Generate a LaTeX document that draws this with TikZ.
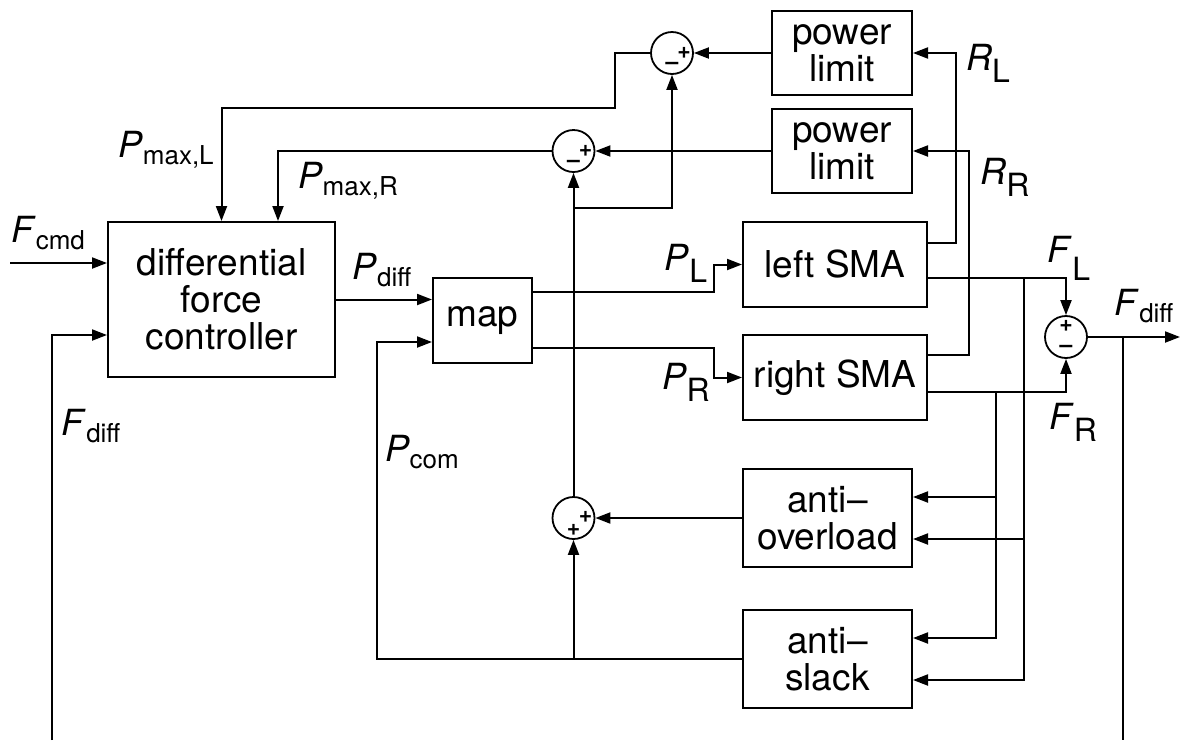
\documentclass[tikz,border=0pt]{standalone}
\usepackage{fontspec}
\setmainfont{TeX Gyre Heros}
\usetikzlibrary{arrows.meta}

\newcommand{\sig}[2]{\textit{#1}\raisebox{-7pt}{\fontsize{26}{26}\selectfont #2}}
\newcommand{\sigc}[3][-12pt]{\textit{#2}\raisebox{#1}{\fontsize{32}{32}\selectfont #3}}

\tikzset{
  block/.style={draw, line width=2pt, inner sep=0pt, align=center,
    font=\fontsize{37}{37}\selectfont},
  sumnode/.style={draw, circle, line width=1.8pt, minimum size=42pt, inner sep=0pt},
  sig/.style={line width=2pt, -{Triangle[length=15pt,width=11pt]}},
  wire/.style={line width=2pt},
  lbl/.style={inner sep=0pt, font=\fontsize{36}{36}\selectfont},
  sgn/.style={inner sep=0pt, font=\fontsize{23}{23}\selectfont\bfseries}
}

\begin{document}
\begin{tikzpicture}[x=1pt,y=-1pt]
    \useasboundingbox (0,0) rectangle (1187,740);

    % Blocks
    \node[block, minimum width=227pt, minimum height=155pt] (ctrl) at (221.5,299.5) {differential\\force\\controller};
    \node[block, minimum width=99pt, minimum height=85pt] (map) at (482.5,320.5) {map};
    \node[block, minimum width=140pt, minimum height=84pt] (limL) at (842,53) {power\\limit};
    \node[block, minimum width=140pt, minimum height=84pt] (limR) at (842,151) {power\\limit};
    \node[block, minimum width=184pt, minimum height=85pt] (smaL) at (835,264.5) {left SMA};
    \node[block, minimum width=184pt, minimum height=85pt] (smaR) at (835,377.5) {right SMA};
    \node[block, minimum width=169pt, minimum height=98pt] (overld) at (827.5,518) {anti--\\overload};
    \node[block, minimum width=169pt, minimum height=98pt] (slack) at (827.5,659) {anti--\\slack};

    % Summing junctions
    \node[sumnode] (sL) at (672,53) {};
    \node[sumnode] (sR) at (573.5,151) {};
    \node[sumnode] (sC) at (573.5,518) {};
    \node[sumnode] (sF) at (1066,337) {};

    \node[sgn] (sLp) at ([xshift=12pt]sL.center) {+};
    \node[sgn] (sLm) at ([yshift=-13pt]sL.center) {--};
    \node[sgn] (sRp) at ([xshift=12pt]sR.center) {+};
    \node[sgn] (sRm) at ([yshift=-13pt]sR.center) {--};
    \node[sgn] (sCp) at ([xshift=12pt,yshift=1pt]sC.center) {+};
    \node[sgn] (sCq) at ([yshift=-12pt]sC.center) {+};
    \node[sgn] (sFp) at ([yshift=11pt]sF.center) {+};
    \node[sgn] (sFm) at ([yshift=-12pt]sF.center) {--};

    % Free ends and taps
    \coordinate (fcmd) at (10,263);
    \coordinate (fbL) at (52,740);
    \coordinate (fbR) at (1123,740);
    \coordinate (fout) at (1180,337);
    \coordinate (tapL) at (1024,278);
    \coordinate (tapR) at (996,392);
    \coordinate (tapC) at (573.5,208);
    \coordinate (pcom) at (377,659);
    \path ([yshift=-21pt]overld.east) coordinate (olL)
          ([yshift=21pt]overld.east) coordinate (olR);

    % Signals
    \draw[sig] (fcmd) -- (fcmd -| ctrl.west);
    \draw[sig] (fbL) |- ([yshift=-35.5pt]ctrl.west);
    \draw[sig] (ctrl.east) -- (ctrl.east -| map.west);
    \draw[sig] (slack.west) -- (pcom) |- ([yshift=-21.5pt]map.west);
    \draw[sig] (slack.west -| sC) -- (sC.south);
    \draw[sig] (overld.west) -- (sC.east);
    \draw[sig] (sC.north) -- (sR.south);
    \draw[sig] (tapC) -| (sL.south);
    \draw[sig] (limL.west) -- (sL.east);
    \draw[sig] (limR.west) -- (sR.east);
    \draw[sig] (sL.west) -- ++(-35,0) |- ([yshift=113pt]ctrl.north) -- (ctrl.north);
    \draw[sig] (sR.west) -| ([xshift=56.5pt]ctrl.north);
    \draw[sig] ([yshift=28.5pt]map.east) -- ++(180.5,0) |- (smaL.west);
    \draw[sig] ([yshift=-27.5pt]map.east) -- ++(180.5,0) |- (smaR.west);
    \draw[sig] ([yshift=21.5pt]smaL.east) -| ([xshift=43pt]limL.east) -- (limL.east);
    \draw[sig] ([yshift=-13.5pt]smaL.east) -| (sF.north);
    \draw[sig] ([yshift=22.5pt]smaR.east) -| ([xshift=56pt]limR.east) -- (limR.east);
    \draw[sig] ([yshift=-14.5pt]smaR.east) -| (sF.south);
    \draw[sig] (tapL) |- ([yshift=-21pt]slack.east);
    \draw[sig] (tapR) |- ([yshift=21pt]slack.east);
    \draw[sig] (olL -| tapL) -- (olL);
    \draw[sig] (olR -| tapR) -- (olR);
    \draw[sig] (sF.east) -- (fout);
    \draw[wire] (sF.east -| fbR) -- (fbR);

    % Labels
    \node[lbl] (lFcmd) at (48,233) {\sig{F}{cmd}};
    \node[lbl] (lPmaxL) at (166,150) {\sig{P}{max,L}};
    \node[lbl] (lPmaxR) at (348,181) {\sig{P}{max,R}};
    \node[lbl] (lPdiff) at (382,270) {\sig{P}{diff}};
    \node[lbl] (lFdiffL) at (91,426) {\sig{F}{diff}};
    \node[lbl] (lPcom) at (422,452) {\sig{P}{com}};
    \node[lbl] (lPL) at (686,263) {\sigc{P}{L}};
    \node[lbl] (lPR) at (686,382) {\sigc{P}{R}};
    \node[lbl] (lRL) at (988,63) {\sigc{R}{L}};
    \node[lbl] (lRR) at (1005,177) {\sigc{R}{R}};
    \node[lbl] (lFL) at (1069,258) {\sigc[-18pt]{F}{L}};
    \node[lbl] (lFdiffR) at (1144,306) {\sig{F}{diff}};
    \node[lbl] (lFR) at (1073,422) {\sigc{F}{R}};
\end{tikzpicture}
\end{document}
